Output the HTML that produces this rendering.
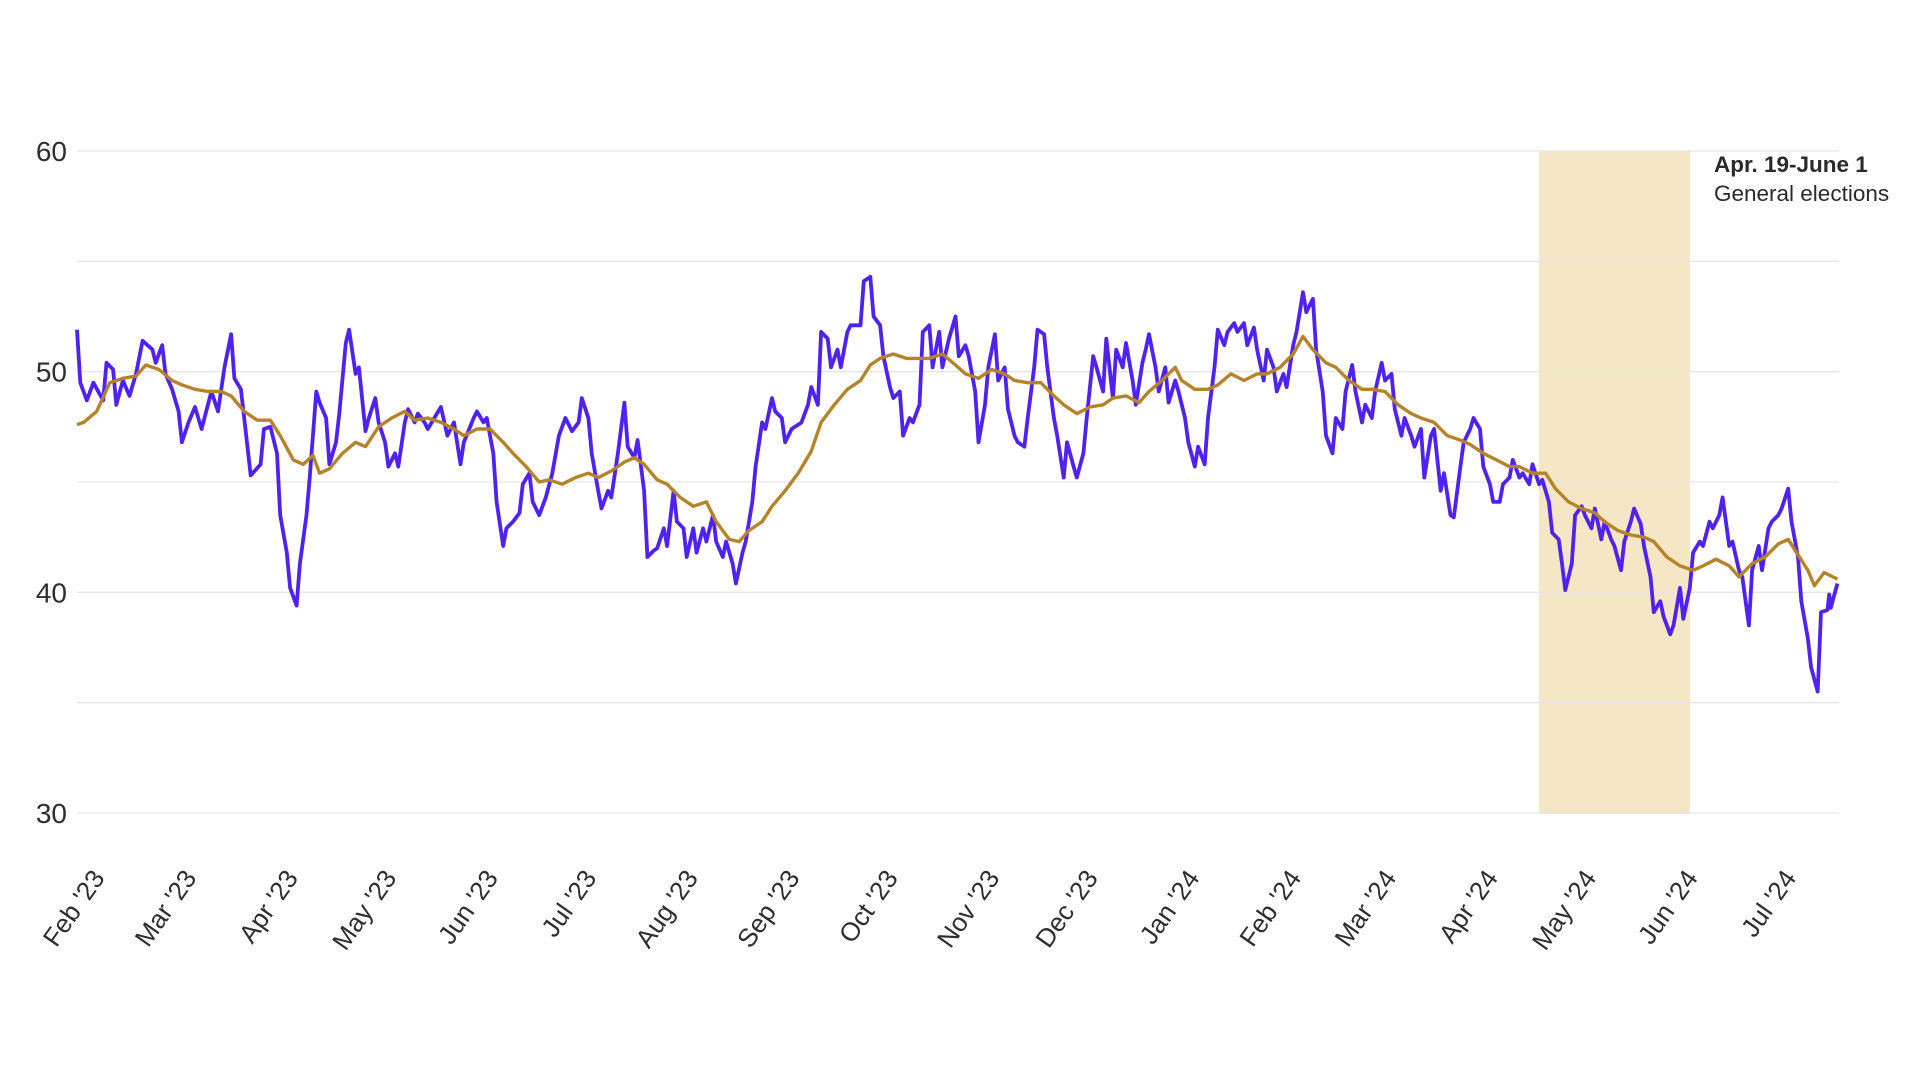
<!DOCTYPE html>
<html><head><meta charset="utf-8"><title>Chart</title>
<style>
html,body{margin:0;padding:0;background:#fff;}
svg{display:block;font-family:"Liberation Sans",Arial,sans-serif;}
</style></head>
<body>
<svg id="chart" width="1920" height="1080" viewBox="0 0 1920 1080" xmlns="http://www.w3.org/2000/svg">
<g id="band-layer"></g>
<g id="grid-layer"></g>
<g id="ylabels"></g>
<g id="xlabels"></g>
<g id="series-layer"></g>
<text x="1714" y="172" font-size="22.5" font-weight="bold" fill="#2a2a2a">Apr. 19-June 1</text>
<text x="1714" y="201" font-size="22.5" fill="#2a2a2a">General elections</text>
</svg>
<script>
// days since Feb 1, 2023
const yTicks = [30, 35, 40, 45, 50, 55, 60];
const yTickLabels = ["30", "", "40", "", "50", "", "60"];
const monthDays = [0, 28, 59, 89, 120, 150, 181, 212, 242, 273, 303, 334, 365, 394, 425, 455, 486, 516];
const monthLabels = ["Feb '23","Mar '23","Apr '23","May '23","Jun '23","Jul '23","Aug '23","Sep '23","Oct '23","Nov '23","Dec '23","Jan '24","Feb '24","Mar '24","Apr '24","May '24","Jun '24","Jul '24"];
const bandStart = 440;
const bandEnd = 486;

const dailyDays = [-6,-5,-3,-1,2,3,5,6,8,10,12,14,17,18,20,21,23,25,26,28,30,32,35,37,39,41,42,44,45,47,50,51,53,55,56,58,59,61,62,64,65,67,68,70,71,73,74,76,77,79,80,82,83,85,86,88,89,91,92,94,95,97,98,100,101,103,105,107,109,111,112,115,116,118,119,121,122,124,125,127,129,130,132,133,135,137,139,141,143,145,147,148,150,151,153,154,156,157,159,161,162,164,165,167,168,170,171,173,174,176,177,179,180,182,183,185,186,188,189,191,192,194,195,197,198,200,201,203,204,206,207,209,210,212,215,217,218,220,221,223,224,226,227,229,230,233,234,236,237,239,240,242,243,245,246,248,249,251,252,254,255,257,258,260,262,263,265,266,268,269,271,272,274,275,277,278,280,281,283,284,286,287,289,290,292,293,295,296,298,299,301,302,304,305,307,308,310,311,313,314,316,317,319,320,321,323,324,326,327,329,330,332,333,335,336,338,339,341,342,344,345,347,348,350,351,353,354,356,357,359,360,362,363,365,366,368,369,371,372,374,375,377,378,380,381,383,384,386,387,389,390,392,393,395,396,398,399,401,402,404,405,407,408,410,411,413,414,416,417,419,420,422,423,425,426,428,429,431,432,434,435,437,438,440,441,443,444,446,447,448,450,451,453,454,456,457,459,460,462,463,465,466,468,469,471,472,474,475,477,478,480,481,483,484,486,487,489,490,492,493,495,496,498,499,501,502,504,505,507,508,510,511,513,514,516,517,519,520,522,523,525,526,528,528.5,529,531];
const dailyValues = [51.9,49.5,48.7,49.5,48.7,50.4,50.1,48.5,49.6,48.9,49.9,51.4,51.0,50.4,51.2,49.9,49.2,48.2,46.8,47.7,48.4,47.4,49.1,48.2,50.2,51.7,49.7,49.2,47.9,45.3,45.8,47.4,47.5,46.3,43.5,41.8,40.2,39.4,41.3,43.5,45.2,49.1,48.6,47.9,45.8,46.8,48.1,51.3,51.9,49.9,50.2,47.3,47.9,48.8,47.7,46.8,45.7,46.3,45.7,47.7,48.3,47.7,48.1,47.7,47.4,47.9,48.4,47.1,47.7,45.8,46.8,47.9,48.2,47.7,47.9,46.3,44.1,42.1,42.9,43.2,43.6,44.9,45.4,44.1,43.5,44.3,45.4,47.1,47.9,47.3,47.7,48.8,47.9,46.3,44.6,43.8,44.6,44.3,46.3,48.6,46.6,46.1,46.9,44.6,41.6,41.9,42.0,42.9,42.1,44.6,43.2,42.9,41.6,42.9,41.8,42.9,42.3,43.5,42.3,41.6,42.3,41.3,40.4,41.8,42.3,44.1,45.7,47.7,47.4,48.8,48.2,47.9,46.8,47.4,47.7,48.5,49.3,48.5,51.8,51.5,50.2,51.0,50.2,51.8,52.1,52.1,54.1,54.3,52.5,52.1,50.7,49.3,48.8,49.1,47.1,47.9,47.7,48.5,51.8,52.1,50.2,51.8,50.2,51.5,52.5,50.7,51.2,50.7,49.1,46.8,48.5,50.2,51.7,49.6,50.2,48.3,47.1,46.8,46.6,47.9,50.2,51.9,51.7,50.2,47.9,47.1,45.2,46.8,45.7,45.2,46.3,47.9,50.7,50.2,49.1,51.5,48.8,51.0,50.2,51.3,49.6,48.5,50.4,51.0,51.7,50.2,49.1,50.2,48.6,49.6,49.1,47.9,46.8,45.7,46.6,45.8,47.9,50.2,51.9,51.2,51.8,52.2,51.8,52.2,51.2,52.0,51.0,49.6,51.0,50.2,49.1,49.9,49.3,51.2,51.8,53.6,52.7,53.3,51.0,49.1,47.1,46.3,47.9,47.4,49.1,50.3,49.1,47.7,48.5,47.9,49.1,50.4,49.6,49.9,48.3,47.1,47.9,47.1,46.6,47.4,45.2,47.1,47.4,44.6,45.4,43.5,43.4,45.7,46.8,47.4,47.9,47.4,45.7,44.9,44.1,44.1,44.9,45.2,46.0,45.2,45.4,44.9,45.8,44.9,45.1,44.1,42.7,42.4,41.3,40.1,41.3,43.5,43.9,43.5,42.9,43.8,42.4,43.2,42.4,42.1,41.0,42.3,43.2,43.8,43.1,42.1,40.7,39.1,39.6,38.9,38.1,38.5,40.2,38.8,40.2,41.8,42.3,42.1,43.2,42.9,43.5,44.3,42.1,42.3,41.0,40.7,38.5,41.0,42.1,41.0,42.9,43.2,43.5,43.8,44.7,43.2,41.6,39.6,37.9,36.6,35.5,39.1,39.2,39.9,39.3,40.4];

const avgDays = [-6,-4,0,4,8,12,15,19,23,26,30,34,38,41,45,49,53,56,60,63,66,68,71,75,79,82,86,90,94,97,101,105,109,112,116,120,124,127,131,135,138,142,146,150,153,157,161,164,167,171,174,178,182,186,189,193,196,199,203,206,210,214,218,221,225,229,233,236,239,243,247,251,254,258,262,265,269,273,277,280,284,288,292,295,299,303,307,310,314,318,321,325,329,331,335,339,342,346,350,354,357,361,365,368,371,375,378,382,386,389,393,397,401,404,408,412,416,419,423,427,431,434,438,442,445,449,453,457,460,464,468,472,475,479,483,487,490,494,498,501,505,509,513,516,519,522,524,527,531];
const avgValues = [47.6,47.7,48.2,49.5,49.7,49.8,50.3,50.1,49.6,49.4,49.2,49.1,49.1,48.9,48.2,47.8,47.8,47.1,46.0,45.8,46.2,45.4,45.6,46.3,46.8,46.6,47.5,47.9,48.2,47.8,47.9,47.7,47.4,47.1,47.4,47.4,46.8,46.3,45.7,45.0,45.1,44.9,45.2,45.4,45.2,45.5,45.9,46.1,45.8,45.1,44.9,44.3,43.9,44.1,43.2,42.4,42.3,42.8,43.2,43.9,44.6,45.4,46.4,47.7,48.5,49.2,49.6,50.3,50.6,50.8,50.6,50.6,50.6,50.8,50.3,49.9,49.7,50.1,49.9,49.6,49.5,49.5,48.9,48.5,48.1,48.4,48.5,48.8,48.9,48.6,49.1,49.6,50.2,49.6,49.2,49.2,49.4,49.9,49.6,49.9,49.9,50.2,50.8,51.6,51.0,50.4,50.2,49.6,49.2,49.2,49.1,48.5,48.1,47.9,47.7,47.1,46.9,46.7,46.3,46.0,45.7,45.7,45.4,45.4,44.7,44.1,43.8,43.6,43.2,42.8,42.6,42.5,42.3,41.6,41.2,41.0,41.2,41.5,41.2,40.7,41.3,41.6,42.2,42.4,41.7,41.0,40.3,40.9,40.6];

const X0 = 77, X1 = 1839, D0 = -6, D1 = 531.5;
const Y0 = 813, Y1 = 151, V0 = 30, V1 = 60;
function xScale(d){ return X0 + (d - D0) / (D1 - D0) * (X1 - X0); }
function yScale(v){ return Y0 - (v - V0) / (V1 - V0) * (Y0 - Y1); }
const NS = "http://www.w3.org/2000/svg";

const band = document.createElementNS(NS, "rect");


band.setAttribute("x", xScale(bandStart));
band.setAttribute("y", Y1);
band.setAttribute("width", xScale(bandEnd) - xScale(bandStart));
band.setAttribute("height", Y0 - Y1 + 1);
band.setAttribute("fill", "#f5e6c6");
document.getElementById("band-layer").appendChild(band);

const grid = document.getElementById("grid-layer");
const yl = document.getElementById("ylabels");
yTicks.forEach((v, i) => {
  const ln = document.createElementNS(NS, "line");
  
  
  ln.setAttribute("x1", X0); ln.setAttribute("x2", X1);
  ln.setAttribute("y1", yScale(v)); ln.setAttribute("y2", yScale(v));
  ln.setAttribute("stroke", "#e6e6e6"); ln.setAttribute("stroke-width", "1.3");
  grid.appendChild(ln);
  if (yTickLabels[i]) {
    const t = document.createElementNS(NS, "text");
    
    
    t.setAttribute("x", 67); t.setAttribute("y", yScale(v) + 10);
    t.setAttribute("text-anchor", "end"); t.setAttribute("font-size", "28");
    t.setAttribute("fill", "#2e2e2e");
    t.textContent = yTickLabels[i];
    yl.appendChild(t);
  }
});

const xl = document.getElementById("xlabels");
monthDays.forEach((d, i) => {
  const t = document.createElementNS(NS, "text");
  
  
  const x = xScale(d) + 9, y = 878;
  t.setAttribute("x", x); t.setAttribute("y", y);
  t.setAttribute("text-anchor", "end"); t.setAttribute("font-size", "26");
  t.setAttribute("fill", "#2e2e2e");
  t.setAttribute("transform", "rotate(-55 " + x + " " + y + ")");
  t.textContent = monthLabels[i];
  xl.appendChild(t);
});

function makePath(days, vals){
  return days.map((d, i) => (i ? "L" : "M") + xScale(d).toFixed(1) + "," + yScale(vals[i]).toFixed(1)).join("");
}
const sl = document.getElementById("series-layer");
const pDaily = document.createElementNS(NS, "path");


pDaily.setAttribute("d", makePath(dailyDays, dailyValues));
pDaily.setAttribute("fill", "none"); pDaily.setAttribute("stroke", "#5022f2");
pDaily.setAttribute("stroke-width", "3.8"); pDaily.setAttribute("stroke-linejoin", "round");
sl.appendChild(pDaily);
const pAvg = document.createElementNS(NS, "path");


pAvg.setAttribute("d", makePath(avgDays, avgValues));
pAvg.setAttribute("fill", "none"); pAvg.setAttribute("stroke", "#b5842a");
pAvg.setAttribute("stroke-width", "3.4"); pAvg.setAttribute("stroke-linejoin", "round");
sl.appendChild(pAvg);
</script>
</body></html>
